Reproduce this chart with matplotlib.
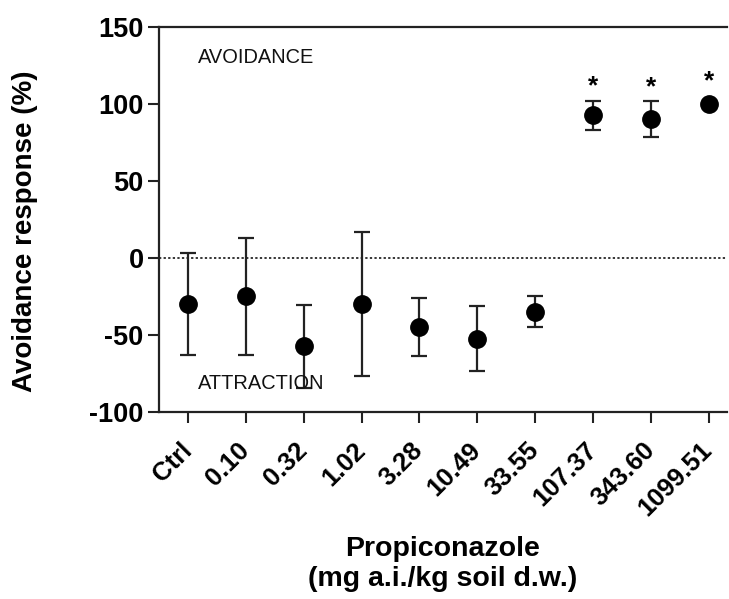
import matplotlib.pyplot as plt

plt.rcParams["font.family"] = ["Liberation Sans", "DejaVu Sans"]
plt.rcParams["axes.unicode_minus"] = False

CONCENTRATIONS = ["Ctrl", "0.10", "0.32", "1.02", "3.28", "10.49",
                  "33.55", "107.37", "343.60", "1099.51"]
MEAN_RESPONSE = [-30, -25, -57.5, -30, -45, -52.5, -35, 92.5, 90, 100]
SD_RESPONSE = [33, 38, 27, 47, 19, 21, 10, 9.5, 11.5, 0]
SIGNIFICANT = [False, False, False, False, False, False, False, True, True, True]

Y_TICKS = [-100, -50, 0, 50, 100, 150]


def draw_chart(output="out.png"):
    fig = plt.figure(figsize=(7.29, 5.99), dpi=100)
    W, H = 729, 599
    left, right, top, bottom = 159, 727, 26.7, 411.7
    ax = fig.add_axes([left / W, 1 - bottom / H, (right - left) / W, (bottom - top) / H])

    xs = list(range(len(CONCENTRATIONS)))
    ax.axhline(0, color="black", linewidth=1.1, linestyle=(0, (1.5, 1.5)), zorder=1)

    # error bars only where there is a spread (no cap for sd == 0)
    ex = [x for x, sd in zip(xs, SD_RESPONSE) if sd > 0]
    ey = [m for m, sd in zip(MEAN_RESPONSE, SD_RESPONSE) if sd > 0]
    esd = [sd for sd in SD_RESPONSE if sd > 0]
    ax.errorbar(ex, ey, yerr=esd, fmt="none", ecolor="#222222",
                elinewidth=1.6, capsize=6, capthick=1.6, zorder=2)
    ax.plot(xs, MEAN_RESPONSE, "o", color="black", markersize=12.5, zorder=3)

    marker_half = 6
    for x, m, sd, sig in zip(xs, MEAN_RESPONSE, SD_RESPONSE, SIGNIFICANT):
        if not sig:
            continue
        extra = marker_half if sd == 0 else 0
        ax.annotate("*", xy=(x, m + sd), xytext=(0, 5 + extra),
                    textcoords="offset points", ha="center", va="baseline",
                    fontsize=19, fontweight="bold")

    ax.text(0.17, 130, "AVOIDANCE", fontsize=14.4, ha="left", va="center", color="#111111")
    ax.text(0.17, -81.6, "ATTRACTION", fontsize=14.4, ha="left", va="center", color="#111111")

    ax.set_xlim(-0.5, (right - 189) / 57.75)
    ax.set_ylim(-100, 150)
    ax.set_yticks(Y_TICKS)
    ax.set_xticks(xs)
    ax.set_xticklabels(CONCENTRATIONS, rotation=45, ha="right", va="center",
                       rotation_mode="anchor", fontsize=18.5, fontweight="bold")
    for lab in ax.get_yticklabels():
        lab.set_fontsize(19.5)
        lab.set_fontweight("bold")

    ax.tick_params(axis="both", length=8, width=1.5, color="#222222")
    ax.tick_params(axis="y", pad=3)
    ax.tick_params(axis="x", pad=17)
    for side in ["left", "bottom", "top"]:
        ax.spines[side].set_linewidth(1.6)
        ax.spines[side].set_color("#222222")
    ax.spines["right"].set_visible(False)

    ax.set_ylabel("Avoidance response (%)", fontsize=20, fontweight="bold")
    ax.yaxis.set_label_coords(-0.213, 0.47)
    ax.set_xlabel("Propiconazole\n(mg a.i./kg soil d.w.)", fontsize=20.5,
                  fontweight="bold", linespacing=1.2)
    ax.xaxis.set_label_coords(0.5, -0.323)

    fig.savefig(output, dpi=100, facecolor="white")
    plt.close(fig)


if __name__ == "__main__":
    draw_chart()
